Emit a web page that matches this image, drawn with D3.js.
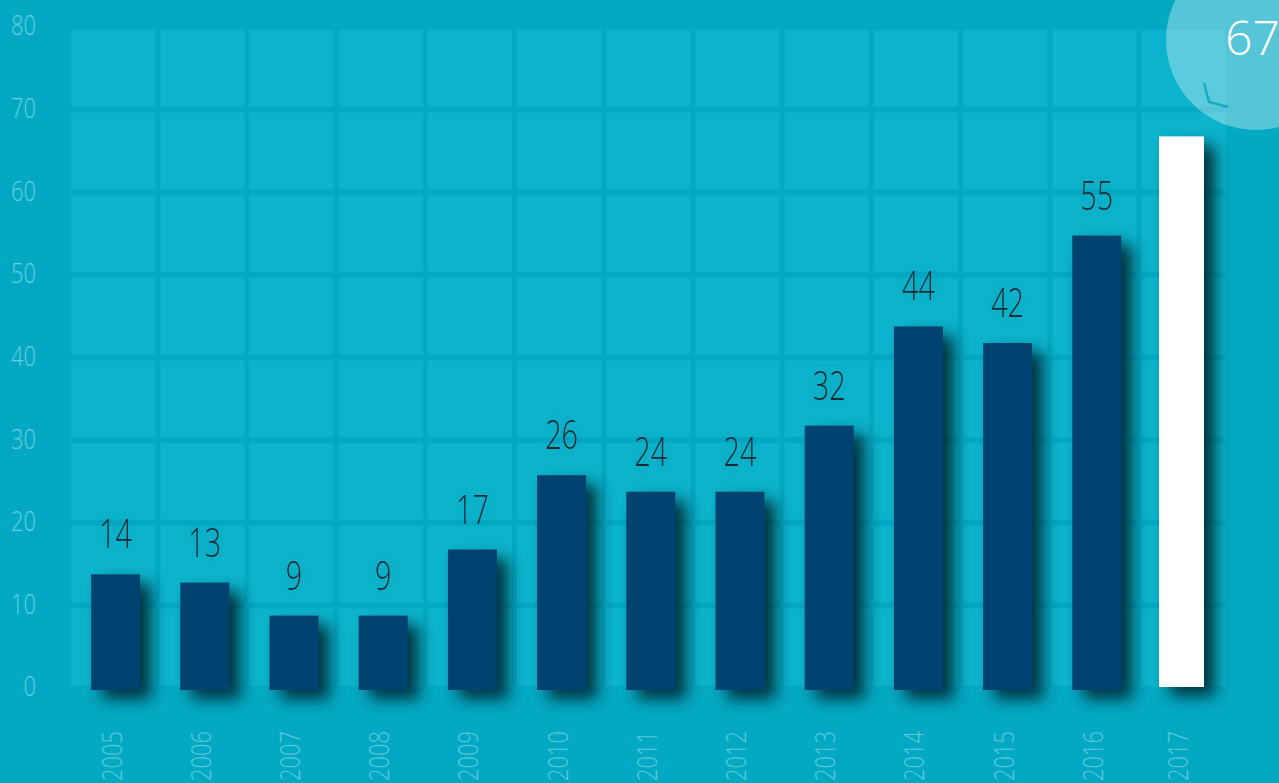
<!DOCTYPE html>
<html>
<head>
<meta charset="utf-8">
<script src="https://cdn.jsdelivr.net/npm/d3@7"></script>
<style>
html,body{margin:0;padding:0;background:#03a9c3;overflow:hidden;}
svg{display:block;}
</style>
</head>
<body>
<svg id="chart" width="1279" height="783"></svg>
<script>
const years = ["2005","2006","2007","2008","2009","2010","2011","2012","2013","2014","2015","2016","2017"];
const values = [14,13,9,9,17,26,24,24,32,44,42,55,67];
const yTicks = [0,10,20,30,40,50,60,70,80];
const highlightYear = "2017";

const W = 1279, H = 783;
const svg = d3.select("#chart");

const defs = svg.append("defs");
const sh = defs.append("filter").attr("id","barShadow").attr("x","-60%").attr("y","-60%").attr("width","250%").attr("height","250%");
sh.append("feDropShadow").attr("dx",11).attr("dy",9).attr("stdDeviation",8)
  .attr("flood-color","#002a35").attr("flood-opacity",0.95);
const th = defs.append("filter").attr("id","textHalo").attr("x","-50%").attr("y","-50%").attr("width","200%").attr("height","200%");
th.append("feGaussianBlur").attr("in","SourceAlpha").attr("stdDeviation",6).attr("result","b");
th.append("feFlood").attr("flood-color","#004a5c").attr("flood-opacity",0.25);
th.append("feComposite").attr("in2","b").attr("operator","in").attr("result","s");
const m = th.append("feMerge");
m.append("feMergeNode").attr("in","s");
m.append("feMergeNode").attr("in","SourceGraphic");

svg.append("rect").attr("width",W).attr("height",H).attr("fill","#03a9c3");

const step = 89.2;
const x = d3.scaleBand().domain(years).range([71, 71 + step*years.length]).padding(0);
const y = d3.scaleLinear().domain([0,80]).range([690,29]);

// tiles
const tileW = x.step() - 5;
const rows = yTicks.slice(0,-1);
const tiles = [];
years.forEach(yr => rows.forEach(v => tiles.push({yr, v})));
svg.append("g").selectAll("rect").data(tiles).join("rect")
  .attr("x", d => x(d.yr))
  .attr("width", tileW)
  .attr("y", d => y(d.v+10)+1)
  .attr("height", d => (y(d.v) - (d.v===0?4:5)) - (y(d.v+10)+1))
  .attr("fill","#0bb4cc");

// circle
svg.append("circle").attr("cx",1256).attr("cy",40).attr("r",90)
  .attr("fill","#ffffff").attr("fill-opacity",0.33);
svg.append("path").attr("d","M1204,83 L1209,102 L1228,107")
  .attr("fill","none").attr("stroke","#1aa9c1").attr("stroke-width",2.5);

const data = years.map((yr,i)=>({yr, v:values[i]}));
const barCenter = d => x(d.yr) + tileW/2 + (d.yr===highlightYear ? -2 : 2.5);
const barW = d => d.yr===highlightYear ? 45 : 49;

// bars
svg.append("g").selectAll("rect").data(data).join("rect")
  .attr("x", d => barCenter(d) - barW(d)/2)
  .attr("width", barW)
  .attr("y", d => y(d.v))
  .attr("height", d => y(0) - y(d.v) + (d.yr===highlightYear ? -3 : 0))
  .attr("fill", d => d.yr===highlightYear ? "#ffffff" : "#02426f")
  .attr("filter","url(#barShadow)");

// value labels
svg.append("g").selectAll("g").data(data.filter(d=>d.yr!==highlightYear)).join("g")
  .attr("transform", d => `translate(${barCenter(d)},${y(d.v)-26}) scale(0.72,1)`)
  .append("text")
  .attr("text-anchor","middle")
  .attr("font-family","'Open Sans', sans-serif")
  .attr("font-weight",300)
  .attr("font-size",40)
  .attr("fill","#1c2b36")
  .attr("filter","url(#textHalo)")
  .text(d => d.v);

// highlight value in circle
const hl = data.find(d=>d.yr===highlightYear);
svg.append("text").attr("x",1225).attr("y",55)
  .attr("font-family","'Open Sans', sans-serif").attr("font-weight",300)
  .attr("font-size",48).attr("fill","#ffffff").text(hl.v);

// y axis labels
svg.append("g").selectAll("g").data(yTicks).join("g")
  .attr("transform", v => `translate(36,${y(v)-1}) scale(0.78,1)`)
  .append("text")
  .attr("text-anchor","end")
  .attr("dominant-baseline","middle")
  .attr("font-family","'Open Sans', sans-serif")
  .attr("font-weight",300)
  .attr("font-size",28)
  .attr("fill","#66cfe0")
  .text(v => v);

// x axis labels
svg.append("g").selectAll("g").data(data).join("g")
  .attr("transform", d => `translate(${barCenter(d)+6},781) rotate(-90) scale(0.78,1)`)
  .append("text")
  .attr("text-anchor","start")
  .attr("font-family","'Open Sans', sans-serif")
  .attr("font-weight",300)
  .attr("font-size",28)
  .attr("fill","#5cc9db")
  .text(d => d.yr);
</script>
</body>
</html>
